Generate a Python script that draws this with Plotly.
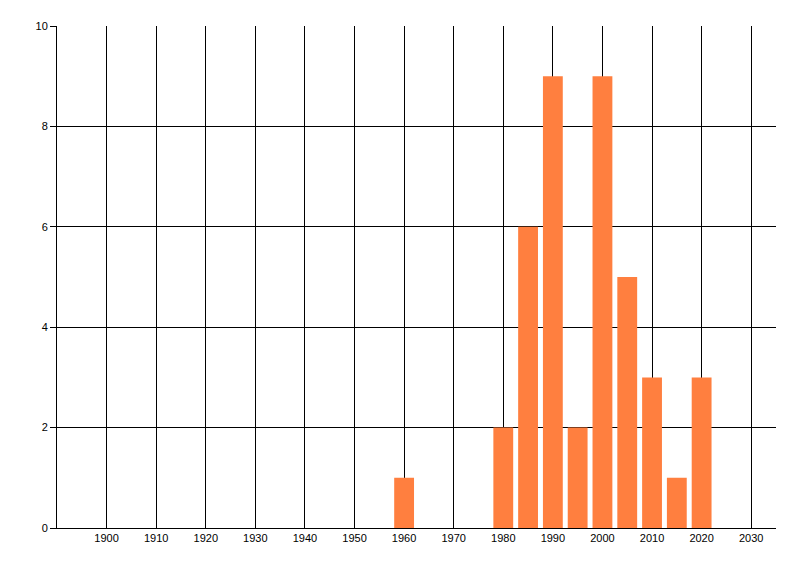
import plotly.graph_objects as go

# values
years = [1960, 1980, 1985, 1990, 1995, 2000, 2005, 2010, 2015, 2020]
counts = [1, 2, 6, 9, 2, 9, 5, 3, 1, 3]
x_ticks = list(range(1900, 2031, 10))
y_ticks = [0, 2, 4, 6, 8, 10]

fig = go.Figure()
fig.add_trace(go.Bar(
    x=years,
    y=counts,
    width=4,
    marker=dict(color="#ff7f3f", line=dict(width=0)),
))

# page body adds 8px, so the figure is a bit smaller than the window
fig.update_layout(
    width=792,
    height=568,
    margin=dict(l=49, r=24, t=18, b=48),
    plot_bgcolor="white",
    paper_bgcolor="white",
    showlegend=False,
    font=dict(family="Liberation Sans, Arial, sans-serif", size=11, color="black"),
)

fig.update_xaxes(
    range=[1890, 2035],
    tickvals=x_ticks,
    showgrid=True,
    gridcolor="black",
    gridwidth=1,
    showline=True,
    linecolor="black",
    linewidth=1,
    ticks="",
    zeroline=False,
)
fig.update_yaxes(
    range=[0, 10],
    tickvals=y_ticks,
    showgrid=True,
    gridcolor="black",
    gridwidth=1,
    showline=True,
    linecolor="black",
    linewidth=1,
    ticks="outside",
    ticklen=6,
    tickcolor="black",
    zeroline=False,
)

fig.write_html("out.html")
